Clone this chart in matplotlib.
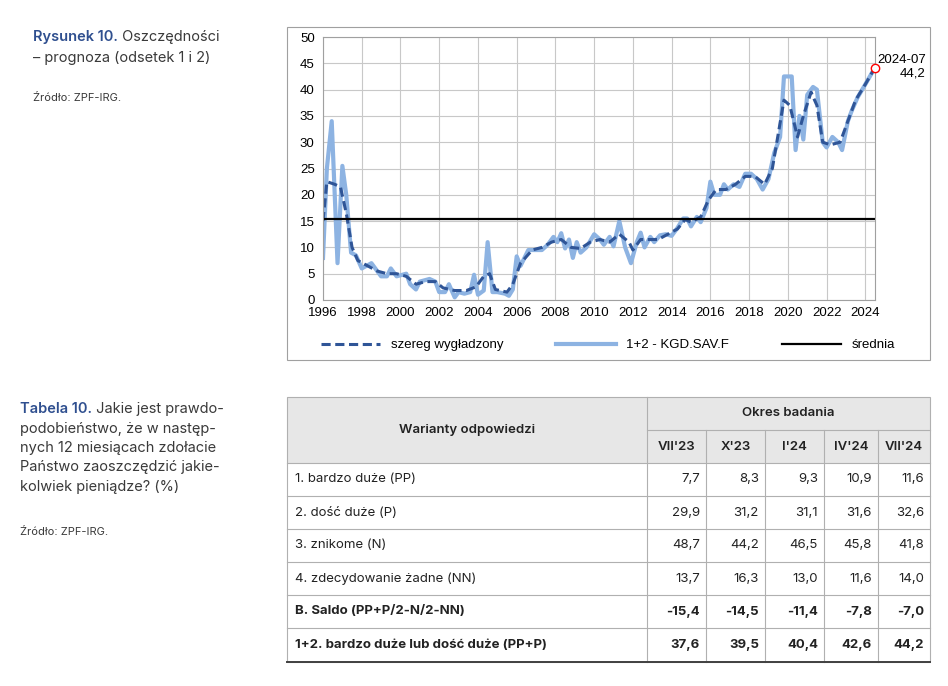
import matplotlib
matplotlib.use("Agg")
import matplotlib.pyplot as plt
from matplotlib.patches import Rectangle
from matplotlib.lines import Line2D

raw_x = [1996.0, 1996.2, 1996.45, 1996.75, 1997.0, 1997.2, 1997.45, 1997.7, 1998.0, 1998.5, 1999.0, 1999.3,
         1999.5, 1999.8, 2000.3, 2000.5, 2000.8, 2001.0, 2001.5, 2001.8, 2002.0, 2002.3, 2002.5, 2002.8,
         2003.0, 2003.3, 2003.6, 2003.8, 2004.0, 2004.3, 2004.5, 2004.75, 2005.0, 2005.4, 2005.6, 2005.8,
         2006.0, 2006.2, 2006.6, 2007.0, 2007.3, 2007.6, 2007.9, 2008.1, 2008.3, 2008.5, 2008.7, 2008.9,
         2009.1, 2009.3, 2009.6, 2010.0, 2010.3, 2010.5, 2010.8, 2011.0, 2011.3, 2011.6, 2011.9, 2012.2,
         2012.4, 2012.6, 2012.9, 2013.1, 2013.4, 2013.7, 2014.0, 2014.3, 2014.6, 2014.8, 2015.0, 2015.3,
         2015.5, 2015.8, 2016.0, 2016.2, 2016.5, 2016.7, 2016.9, 2017.2, 2017.5, 2017.8, 2018.1, 2018.4,
         2018.7, 2019.0, 2019.3, 2019.6, 2019.8, 2020.2, 2020.4, 2020.6, 2020.8, 2021.0, 2021.3, 2021.5,
         2021.8, 2022.0, 2022.3, 2022.6, 2022.8, 2023.1, 2023.3, 2023.6, 2024.0, 2024.5]
raw_y = [8, 25, 34, 7, 25.5, 20, 9, 8.5, 6, 7, 4.5, 4.5,
         6, 4.5, 5, 3, 2, 3.5, 4, 3.5, 1.5, 1.5, 3, 0.5,
         1.5, 1.2, 1.5, 4.8, 1, 1.8, 11, 1.5, 1.5, 1.2, 0.8, 2,
         8.3, 6.5, 9.5, 9.5, 9.5, 10.5, 12, 11, 12.7, 9.8, 11.5, 8,
         11, 9, 10, 12.5, 11.5, 10.5, 12, 10.2, 15, 10, 7, 11,
         12.8, 10, 12, 11, 12.3, 12.5, 12.2, 13.7, 15.5, 15.5, 14, 15.8,
         14.8, 17.5, 22.5, 20, 20, 22, 21, 22, 21.5, 24, 24, 23,
         21, 23, 28, 31, 42.5, 42.5, 28.5, 35, 30.5, 39, 40.5, 40,
         30, 29, 31, 30, 28.5, 34, 36, 38.5, 41, 44.2]

smooth_x = [1996.0, 1996.2, 1996.6, 1996.9, 1997.2, 1997.5, 1997.8, 1998.3, 1998.8, 1999.3, 1999.8, 2000.3,
            2000.8, 2001.3, 2001.8, 2002.2, 2002.8, 2003.4, 2003.9, 2004.3, 2004.6, 2004.9, 2005.5, 2005.8,
            2006.2, 2006.8, 2007.3, 2007.8, 2008.3, 2008.8, 2009.3, 2009.8, 2010.3, 2010.8, 2011.3, 2011.8,
            2012.0, 2012.4, 2012.8, 2013.3, 2013.8, 2014.3, 2014.7, 2015.0, 2015.5, 2015.9, 2016.3, 2016.8,
            2017.3, 2017.8, 2018.3, 2018.8, 2019.2, 2019.8, 2020.1, 2020.5, 2020.8, 2021.2, 2021.5, 2021.8,
            2022.2, 2022.7, 2023.1, 2023.5, 2024.0, 2024.5]
smooth_y = [15, 22.5, 22, 21.5, 16.5, 10, 7.5, 6.5, 5.5, 5, 5, 4.5,
            3, 3.5, 3.5, 2.3, 1.8, 1.8, 2.5, 4.5, 5, 2, 1.5, 3,
            7, 9.5, 10, 11, 11.5, 10, 9.8, 11, 11.5, 11, 12.5, 11,
            9.5, 11.5, 11.5, 11.5, 12.5, 13.5, 15.3, 14.8, 15.8, 19, 21, 21,
            22, 23.5, 23.5, 22, 25, 38, 37, 31, 35, 39.5, 37, 30,
            29.5, 30, 34, 38, 41, 44.2]

mean_value = 15.4
last_label = "2024-07\n44,2"

col_headers = ["VII'23", "X'23", "I'24", "IV'24", "VII'24"]
row_labels = ["1. bardzo duże (PP)", "2. dość duże (P)", "3. znikome (N)", "4. zdecydowanie żadne (NN)",
              "B. Saldo (PP+P/2-N/2-NN)", "1+2. bardzo duże lub dość duże (PP+P)"]
table_values = [["7,7", "8,3", "9,3", "10,9", "11,6"],
                ["29,9", "31,2", "31,1", "31,6", "32,6"],
                ["48,7", "44,2", "46,5", "45,8", "41,8"],
                ["13,7", "16,3", "13,0", "11,6", "14,0"],
                ["-15,4", "-14,5", "-11,4", "-7,8", "-7,0"],
                ["37,6", "39,5", "40,4", "42,6", "44,2"]]
bold_rows = [4, 5]

W, H = 948, 686
BLUE_T = "#2f4f8f"
GREY_T = "#3a3a3a"
plt.rcParams["font.family"] = ["Inter", "DejaVu Sans"]

fig = plt.figure(figsize=(W / 100, H / 100), dpi=100)
bg = fig.add_axes([0, 0, 1, 1])
bg.set_xlim(0, W)
bg.set_ylim(H, 0)
bg.axis("off")


def lead_text(x, y, bold, rest):
    t = bg.text(x, y, bold, color=BLUE_T, fontsize=10.5, fontweight="semibold", va="baseline")
    bg.annotate(" " + rest, xy=(1, 0), xycoords=t, va="bottom", ha="left", color=GREY_T, fontsize=10.5)


# side texts
lead_text(33, 41, "Rysunek 10.", "Oszczędności")
bg.text(33, 62, "– prognoza (odsetek 1 i 2)", color=GREY_T, fontsize=10.5, va="baseline")
bg.text(33, 98, "Źródło: ZPF-IRG.", color=GREY_T, fontsize=8, va="center")
lead_text(20, 413, "Tabela 10.", "Jakie jest prawdo-")
for i, line in enumerate(["podobieństwo, że w następ-", "nych 12 miesiącach zdołacie",
                          "Państwo zaoszczędzić jakie-", "kolwiek pieniądze? (%)"]):
    bg.text(20, 413 + 19.5 * (i + 1), line, color=GREY_T, fontsize=10.5, va="baseline")
bg.text(20, 532, "Źródło: ZPF-IRG.", color=GREY_T, fontsize=8, va="center")

# chart frame
bg.add_patch(Rectangle((287, 27), 643, 333, fill=False, ec="#a0a0a0", lw=0.8))

ax = fig.add_axes([323 / W, 1 - 300 / H, (875 - 323) / W, (300 - 37) / H])
ax.plot(raw_x, raw_y, color="#8db3e2", lw=3, solid_joinstyle="round")
ax.plot(smooth_x, smooth_y, color="#2f5597", lw=2.2, ls=(0, (3, 1.5)))
ax.axhline(mean_value, color="black", lw=1.6)
ax.plot([raw_x[-1]], [raw_y[-1]], "o", mfc="white", mec="red", ms=6, mew=1, clip_on=False, zorder=5)
ax.text(raw_x[-1] + 0.1, raw_y[-1] + 0.2, last_label, fontsize=9.5, family="Liberation Sans", ha="left",
        va="center", linespacing=1.2, ma="right")
ax.set_xlim(1996, 2024.5)
ax.set_ylim(0, 50)
ax.set_xticks(range(1996, 2025, 2))
ax.set_yticks(range(0, 51, 5))
ax.grid(True, color="#c8c8c8", lw=0.8)
for s in ax.spines.values():
    s.set_color("#a0a0a0")
ax.tick_params(length=0, labelsize=9.5)
ax.tick_params(axis="y", pad=6)
ax.tick_params(axis="x", pad=5)
for lab in ax.get_xticklabels() + ax.get_yticklabels():
    lab.set_family("Liberation Sans")
handles = [Line2D([], [], color="#2f5597", lw=2.2, ls=(0, (3, 1.5))),
           Line2D([], [], color="#8db3e2", lw=3), Line2D([], [], color="black", lw=1.6)]
fig.legend(handles, ["szereg wygładzony", "1+2 - KGD.SAV.F", "średnia"], loc="center",
           bbox_to_anchor=(608 / W, 1 - 345 / H), ncol=3, frameon=False, columnspacing=4,
           handlelength=4.5, prop={"family": "Liberation Sans", "size": 9.5})

# table
tx0, tx1 = 287, 930
cols = [647, 706, 765, 824, 878, 930]
ty = [397, 430, 463, 496, 529, 562, 595, 628, 662]
bg.add_patch(Rectangle((tx0, ty[0]), tx1 - tx0, ty[2] - ty[0], color="#e7e7e7", lw=0))
bg.add_patch(Rectangle((tx0, ty[0]), tx1 - tx0, ty[-1] - ty[0], fill=False, ec="#b0b0b0", lw=0.8))
bg.plot([cols[0], cols[0]], [ty[0], ty[-1]], color="#b0b0b0", lw=0.8)
bg.plot([cols[0], tx1], [ty[1], ty[1]], color="#b0b0b0", lw=0.8)
for c in cols[1:-1]:
    bg.plot([c, c], [ty[1], ty[-1]], color="#b0b0b0", lw=0.8)
for y in ty[2:-1]:
    bg.plot([tx0, tx1], [y, y], color="#b0b0b0", lw=0.8)
bg.plot([tx0, tx1], [ty[-1], ty[-1]], color="#404040", lw=1.4)
bg.text((tx0 + cols[0]) / 2, (ty[0] + ty[2]) / 2, "Warianty odpowiedzi", ha="center", va="center",
        fontsize=9.5, fontweight="semibold", color="#222")
bg.text((cols[0] + tx1) / 2, (ty[0] + ty[1]) / 2, "Okres badania", ha="center", va="center",
        fontsize=9.5, fontweight="semibold", color="#222")
for j, hd in enumerate(col_headers):
    bg.text((cols[j] + cols[j + 1]) / 2, (ty[1] + ty[2]) / 2, hd, ha="center", va="center",
            fontsize=9.5, fontweight="semibold", color="#222")
for i, (lab, vals) in enumerate(zip(row_labels, table_values)):
    yc = (ty[i + 2] + ty[i + 3]) / 2
    fw = "bold" if i in bold_rows else "normal"
    bg.text(295, yc, lab, ha="left", va="center", fontsize=9.5, fontweight=fw, color="#222")
    for j, v in enumerate(vals):
        bg.text(cols[j + 1] - 6, yc, v, ha="right", va="center", fontsize=9.5, fontweight=fw, color="#222")

fig.savefig("out.png", dpi=100)
